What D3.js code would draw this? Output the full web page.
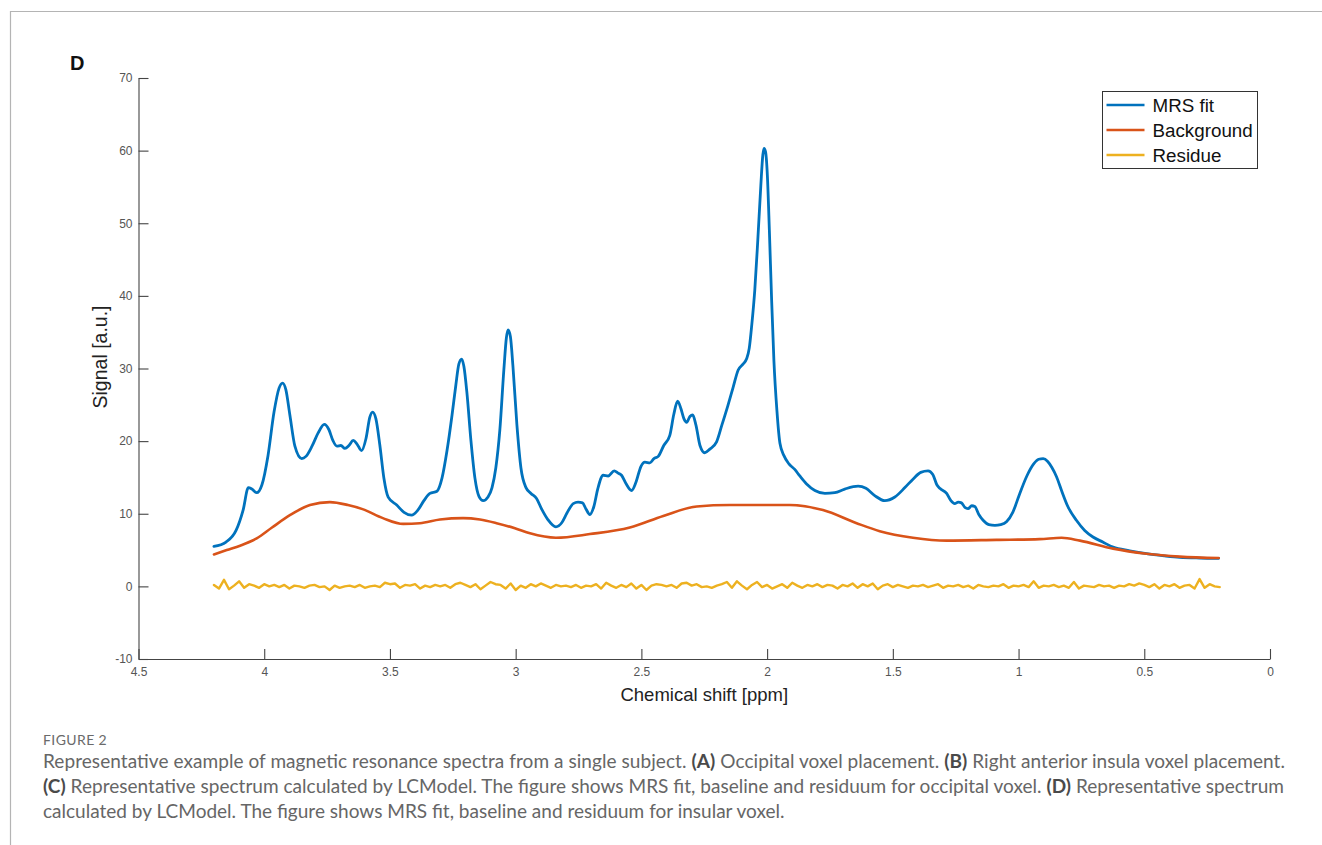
<!DOCTYPE html>
<html>
<head>
<meta charset="utf-8">
<script src="https://cdn.jsdelivr.net/npm/d3@7"></script>
<style>
  body { margin: 0; background: #fff; }
  svg { display: block; }
</style>
</head>
<body>
<svg id="chart" width="1322" height="845"></svg>
<script>
// ---- Spectrum data (chemical shift in ppm, signal in a.u.) ----
const fitPpm = [4.200,4.152,4.112,4.084,4.063,4.049,4.030,4.009,3.985,3.961,3.941,3.927,3.914,3.898,3.878,3.851,3.834,3.810,3.786,3.761,3.743,3.727,3.711,3.695,3.679,3.663,3.646,3.631,3.613,3.595,3.580,3.569,3.556,3.540,3.524,3.507,3.473,3.444,3.414,3.389,3.365,3.341,3.313,3.293,3.273,3.253,3.238,3.226,3.215,3.206,3.194,3.178,3.162,3.146,3.129,3.110,3.094,3.079,3.063,3.047,3.037,3.030,3.021,3.011,2.995,2.979,2.959,2.939,2.917,2.896,2.872,2.840,2.816,2.796,2.771,2.752,2.734,2.721,2.705,2.689,2.673,2.652,2.632,2.608,2.593,2.579,2.562,2.539,2.522,2.502,2.486,2.466,2.450,2.433,2.411,2.387,2.371,2.356,2.343,2.331,2.320,2.307,2.296,2.283,2.267,2.248,2.228,2.201,2.180,2.156,2.136,2.115,2.096,2.082,2.071,2.061,2.049,2.037,2.025,2.017,2.012,2.006,1.999,1.991,1.982,1.973,1.961,1.949,1.933,1.914,1.890,1.870,1.843,1.810,1.770,1.731,1.691,1.638,1.607,1.572,1.532,1.492,1.452,1.419,1.389,1.360,1.341,1.325,1.313,1.286,1.269,1.254,1.240,1.227,1.214,1.201,1.186,1.174,1.158,1.141,1.118,1.094,1.071,1.048,1.023,0.995,0.967,0.939,0.920,0.902,0.884,0.868,0.849,0.828,0.804,0.770,0.737,0.704,0.665,0.624,0.558,0.491,0.419,0.359,0.279,0.204];
const fitSignal = [5.5,6.1,7.7,10.5,13.6,13.4,12.9,14.0,18.0,24.0,27.3,28.0,27.1,23.6,19.3,17.6,17.9,19.3,21.1,22.3,21.6,20.1,19.3,19.4,19.0,19.4,20.1,19.6,18.7,20.4,23.3,24.0,23.1,19.4,14.9,12.3,11.2,10.2,9.8,10.5,11.8,12.8,13.1,14.9,18.7,23.6,27.7,30.6,31.3,30.3,26.7,20.1,14.9,12.4,11.8,12.3,13.6,16.3,21.5,29.8,34.2,35.3,34.4,30.4,22.2,16.3,13.6,12.8,12.1,10.6,9.2,8.2,8.8,10.1,11.4,11.6,11.5,10.7,9.9,11.0,13.5,15.3,15.2,15.9,15.6,15.3,14.2,13.2,14.3,16.5,17.1,17.0,17.6,17.9,19.4,20.8,23.7,25.5,24.5,23.1,22.6,23.4,23.6,22.2,19.4,18.4,18.9,19.9,22.2,24.9,27.3,29.8,30.6,31.3,32.8,36.0,40.8,47.7,55.2,59.4,60.3,59.8,56.6,49.0,39.4,31.1,24.2,19.7,18.0,16.9,16.1,15.2,14.1,13.2,12.8,12.9,13.4,13.8,13.5,12.5,11.8,12.3,13.6,14.8,15.7,15.9,15.4,14.0,13.5,12.8,11.8,11.4,11.6,11.5,10.9,10.7,11.1,11.0,9.9,9.1,8.5,8.4,8.5,8.9,10.2,12.8,15.2,16.9,17.5,17.6,17.2,16.4,15.1,13.1,11.0,9.1,7.7,6.8,6.1,5.4,4.9,4.5,4.2,4.0,3.9,3.86];

const bgPpm = [4.200,4.149,4.096,4.030,3.969,3.898,3.818,3.739,3.667,3.606,3.528,3.447,3.381,3.301,3.209,3.142,3.076,3.003,2.943,2.840,2.705,2.546,2.413,2.280,2.148,2.029,1.910,1.778,1.644,1.552,1.420,1.286,1.088,0.916,0.829,0.756,0.624,0.491,0.359,0.204];
const bgSignal = [4.4,5.0,5.6,6.6,8.1,9.8,11.2,11.6,11.2,10.6,9.4,8.6,8.7,9.2,9.4,9.2,8.7,8.0,7.3,6.7,7.2,8.1,9.7,11.0,11.2,11.2,11.2,10.5,8.7,7.6,6.7,6.3,6.4,6.5,6.7,6.3,5.2,4.5,4.1,3.9];

// Residue sampled every 0.02 ppm from 4.20 down to 0.20
const residueStart = 4.2;
const residueEnd = 0.2;
const residue = [0.2,-0.3,0.9,-0.4,0.1,0.7,-0.2,0.3,0.1,-0.2,0.3,0.0,0.2,-0.1,0.2,-0.3,0.1,0.0,-0.2,0.1,0.2,-0.1,0.0,-0.5,0.1,-0.2,0.0,0.1,-0.1,0.2,-0.2,0.0,0.1,-0.1,0.5,0.3,0.4,-0.2,0.2,0.1,0.3,-0.3,0.1,-0.1,0.2,0.0,0.2,-0.2,0.3,0.5,0.2,-0.1,0.3,-0.4,0.1,0.6,0.3,0.2,-0.3,0.4,-0.5,0.1,-0.2,0.3,0.0,0.4,0.1,-0.2,0.2,0.0,0.1,-0.1,0.2,-0.2,0.1,0.0,0.3,-0.3,0.5,0.1,-0.2,0.2,-0.1,0.4,-0.3,0.2,-0.5,0.1,0.3,0.2,0.0,0.2,-0.2,0.4,0.5,0.1,0.3,-0.1,0.0,-0.2,0.1,0.3,0.6,-0.2,0.7,0.1,-0.4,0.2,0.6,-0.1,0.2,-0.3,0.0,0.3,-0.2,0.5,0.1,-0.2,0.2,0.0,0.3,-0.1,0.2,0.1,-0.3,0.2,0.0,0.4,-0.2,0.3,0.0,0.4,-0.4,0.1,0.3,-0.1,0.2,0.0,-0.2,0.1,0.0,0.2,-0.1,0.1,0.3,-0.2,0.1,0.0,0.2,-0.1,0.1,-0.3,0.2,0.0,-0.1,0.1,0.0,0.3,-0.2,0.1,0.0,0.2,-0.1,0.7,-0.2,0.1,0.0,0.2,-0.1,0.1,-0.2,0.6,-0.3,0.1,0.0,-0.1,0.2,0.0,0.1,-0.2,0.1,0.0,0.3,0.1,0.4,0.2,-0.1,0.3,-0.3,0.2,0.0,0.3,-0.2,0.1,0.2,-0.3,1.0,-0.2,0.3,0.0,-0.1];

// ---- Axis ticks and legend ----
const xTicks = [4.5, 4, 3.5, 3, 2.5, 2, 1.5, 1, 0.5, 0];
const yTicks = [-10, 0, 10, 20, 30, 40, 50, 60, 70];
const seriesNames = ["MRS fit", "Background", "Residue"];
const seriesColors = ["#0072BD", "#D95319", "#EDB120"];

const captionTitle = "FIGURE 2";
const captionLines = [
  [["Representative example of magnetic resonance spectra from a single subject. ", false], ["(A)", true], [" Occipital voxel placement. ", false], ["(B)", true], [" Right anterior insula voxel placement.", false]],
  [["(C)", true], [" Representative spectrum calculated by LCModel. The figure shows MRS fit, baseline and residuum for occipital voxel. ", false], ["(D)", true], [" Representative spectrum", false]],
  [["calculated by LCModel. The figure shows MRS fit, baseline and residuum for insular voxel.", false]]
];

// ---- Drawing ----
const svg = d3.select("#chart");
const axisFont = "'Liberation Sans', Arial, Helvetica, sans-serif";

// Panel frame
svg.append("path")
  .attr("d", "M10.5,845 V11.5 H1322")
  .attr("fill", "none")
  .attr("stroke", "#b4b4b4")
  .attr("stroke-width", 1.2);

// Panel letter
svg.append("text")
  .attr("x", 70).attr("y", 70)
  .attr("font-family", axisFont)
  .attr("font-weight", "bold")
  .attr("font-size", 20)
  .attr("fill", "#111")
  .text("D");

const x = d3.scaleLinear().domain([4.5, 0]).range([138.5, 1270]);
const y = d3.scaleLinear().domain([-10, 70]).range([659, 78]);

const xAxis = d3.axisBottom(x)
  .tickValues(xTicks)
  .tickFormat(d => String(d))
  .tickSizeInner(-10).tickSizeOuter(0).tickPadding(8);
const yAxis = d3.axisLeft(y)
  .tickValues(yTicks)
  .tickFormat(d => String(d))
  .tickSizeInner(-10).tickSizeOuter(0).tickPadding(6);

function styleAxis(g) {
  g.attr("font-family", axisFont).attr("font-size", 12);
  g.select(".domain").attr("stroke", "#444").attr("stroke-width", 1.1);
  g.selectAll(".tick line").attr("stroke", "#444").attr("stroke-width", 1.1);
  g.selectAll(".tick text").attr("fill", "#555");
}

svg.append("g").attr("transform", `translate(0,${y(-10)})`).call(xAxis).call(styleAxis);
svg.append("g").attr("transform", `translate(${x(4.5)},0)`).call(yAxis).call(styleAxis);

// Axis titles
svg.append("text")
  .attr("x", (x(4.5) + x(0)) / 2).attr("y", 701)
  .attr("text-anchor", "middle")
  .attr("font-family", axisFont).attr("font-size", 18.5)
  .attr("fill", "#222")
  .text("Chemical shift [ppm]");

svg.append("text")
  .attr("transform", "translate(107,357) rotate(-90)")
  .attr("text-anchor", "middle")
  .attr("font-family", axisFont).attr("font-size", 19.5)
  .attr("fill", "#222")
  .text("Signal [a.u.]");

// Series
const fitData = fitPpm.map((p, i) => [p, fitSignal[i]]);
const bgData = bgPpm.map((p, i) => [p, bgSignal[i]]);
const resStep = (residueStart - residueEnd) / (residue.length - 1);
const resData = residue.map((v, i) => [residueStart - i * resStep, v]);

const smooth = d3.line().x(d => x(d[0])).y(d => y(d[1])).curve(d3.curveMonotoneX);
const straight = d3.line().x(d => x(d[0])).y(d => y(d[1]));

const plot = svg.append("g").attr("fill", "none").attr("stroke-linejoin", "round").attr("stroke-linecap", "round");
plot.append("path").attr("d", smooth(fitData)).attr("stroke", seriesColors[0]).attr("stroke-width", 2.8);
plot.append("path").attr("d", smooth(bgData)).attr("stroke", seriesColors[1]).attr("stroke-width", 2.6);
plot.append("path").attr("d", straight(resData)).attr("stroke", seriesColors[2]).attr("stroke-width", 2.4);

// Legend
const legend = svg.append("g").attr("transform", "translate(1102.5,91.5)");
legend.append("rect")
  .attr("width", 155).attr("height", 77)
  .attr("fill", "#fff").attr("stroke", "#333").attr("stroke-width", 1);
seriesNames.forEach((name, i) => {
  const cy = 13.5 + i * 25;
  legend.append("line")
    .attr("x1", 4).attr("x2", 42).attr("y1", cy).attr("y2", cy)
    .attr("stroke", seriesColors[i]).attr("stroke-width", 2.6);
  legend.append("text")
    .attr("x", 50).attr("y", cy + 6.5)
    .attr("font-family", axisFont).attr("font-size", 18.8)
    .attr("fill", "#111")
    .text(name);
});

// Caption
const capFont = "Lato, 'Open Sans', sans-serif";
svg.append("text")
  .attr("x", 43).attr("y", 745)
  .attr("font-family", capFont).attr("font-size", 14)
  .attr("fill", "#6a6a6a")
  .attr("letter-spacing", 0.4)
  .text(captionTitle);

const lineTargets = [1242, 1241, null];
const lastWidth = 742;
const capNodes = captionLines.map((parts, li) => {
  const t = svg.append("text")
    .attr("x", 43).attr("y", 768 + li * 25)
    .attr("font-family", capFont).attr("font-size", 16)
    .attr("fill", "#666");
  parts.forEach(([s, bold]) => {
    t.append("tspan").attr("font-weight", bold ? "bold" : null).attr("fill", bold ? "#4a4a4a" : null).text(s);
  });
  return t;
});
const measured = capNodes[2].node().getComputedTextLength();
const fs = 16 * lastWidth / measured;
capNodes.forEach((t, li) => {
  t.attr("font-size", fs);
  if (lineTargets[li]) {
    t.attr("textLength", lineTargets[li]).attr("lengthAdjust", "spacing");
  }
});
</script>
</body>
</html>
